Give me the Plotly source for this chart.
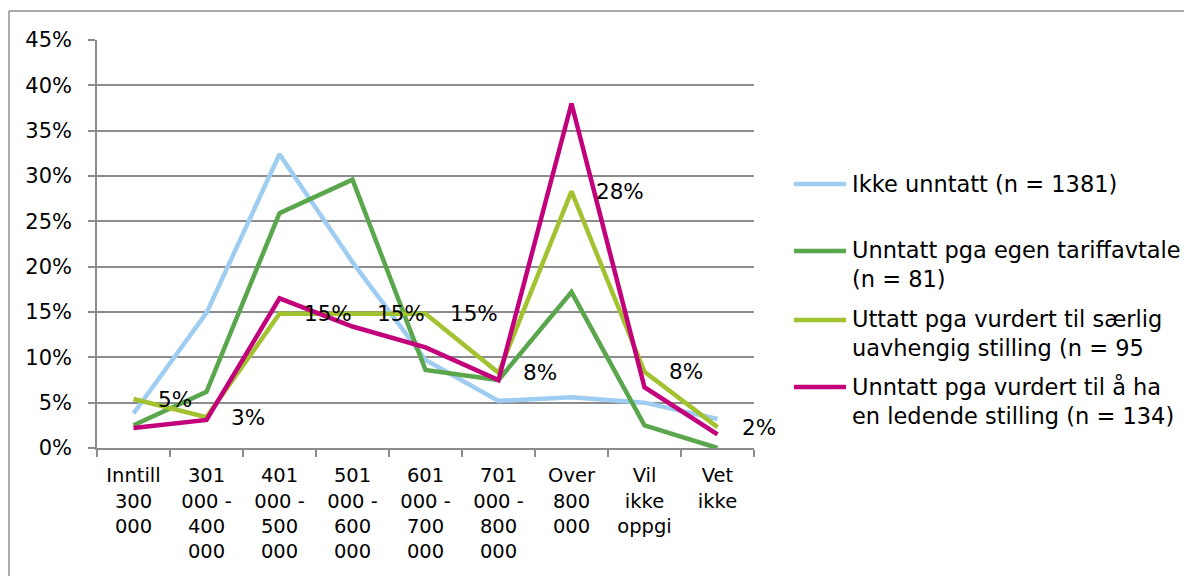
import plotly.graph_objects as go

# Income brackets (NOK) on the x axis
categories = [
    "Inntill<br>300<br>000",
    "301<br>000 -<br>400<br>000",
    "401<br>000 -<br>500<br>000",
    "501<br>000 -<br>600<br>000",
    "601<br>000 -<br>700<br>000",
    "701<br>000 -<br>800<br>000",
    "Over<br>800<br>000",
    "Vil<br>ikke<br>oppgi",
    "Vet<br>ikke",
]

# Share of respondents per bracket (%)
ikke_unntatt = [3.8, 14.9, 32.4, 20.5, 9.7, 5.2, 5.6, 5.0, 3.2]
egen_tariffavtale = [2.5, 6.2, 25.9, 29.6, 8.6, 7.5, 17.2, 2.5, 0.0]
saerlig_uavhengig = [5.4, 3.4, 14.8, 14.8, 14.8, 8.3, 28.3, 8.4, 2.3]
ledende_stilling = [2.2, 3.1, 16.5, 13.4, 11.1, 7.5, 38.0, 6.7, 1.5]

series_names = [
    "Ikke unntatt (n = 1381)",
    "Unntatt pga egen tariffavtale\n(n = 81)",
    "Uttatt pga vurdert til særlig\nuavhengig stilling (n = 95",
    "Unntatt pga vurdert til å ha\nen ledende stilling (n = 134)",
]
series_values = [ikke_unntatt, egen_tariffavtale, saerlig_uavhengig, ledende_stilling]
series_colors = ["#9FCDF1", "#5AA64D", "#A3C230", "#C2007B"]

# y-axis ticks
y_ticks = [0, 5, 10, 15, 20, 25, 30, 35, 40, 45]
y_ticktext = [f"{t}%" for t in y_ticks]

FONT = "Verdana, DejaVu Sans, sans-serif"
GRID = "#8C8C8C"

W, H = 1184, 576
L, R, T, B = 97, 430, 40, 128
plot_w = W - L - R
plot_h = H - T - B


def px_to_paper_x(px):
    return (px - L) / plot_w


def px_to_paper_y(py):
    return (H - B - py) / plot_h


fig = go.Figure()

for name, vals, color in zip(series_names, series_values, series_colors):
    fig.add_trace(go.Scatter(
        x=categories, y=vals, mode="lines", name=name.replace("\n", " "),
        line=dict(color=color, width=4.5), showlegend=False,
        hoverinfo="x+y",
    ))

# Data labels on the "særlig uavhengig stilling" series
annotations = []
for cat, v in zip(categories, saerlig_uavhengig):
    annotations.append(dict(
        x=cat, y=v, xref="x", yref="y", text=f"{round(v)}%",
        showarrow=False, xanchor="left", yanchor="middle", xshift=22,
        font=dict(family=FONT, size=21.5, color="#000000"),
    ))

# Legend drawn at the right of the plot
shapes = []
legend_first_line_y = [184, 251, 320, 387]
line_h = 27.0
for name, color, ly in zip(series_names, series_colors, legend_first_line_y):
    n_lines = name.count("\n") + 1
    shapes.append(dict(
        type="line", xref="paper", yref="paper",
        x0=px_to_paper_x(794), x1=px_to_paper_x(846),
        y0=px_to_paper_y(ly), y1=px_to_paper_y(ly),
        line=dict(color=color, width=4.5),
    ))
    center = ly + (n_lines - 1) * line_h / 2
    annotations.append(dict(
        x=px_to_paper_x(850), y=px_to_paper_y(center), xref="paper", yref="paper",
        text=name.replace("\n", "<br>"), showarrow=False, align="left",
        xanchor="left", yanchor="middle",
        font=dict(family=FONT, size=22.5, color="#000000"),
    ))

# Outer chart frame (left and top edges)
shapes.append(dict(type="line", xref="paper", yref="paper",
                   x0=px_to_paper_x(9), x1=px_to_paper_x(9),
                   y0=px_to_paper_y(11), y1=px_to_paper_y(H + 10),
                   line=dict(color=GRID, width=1.5)))
shapes.append(dict(type="line", xref="paper", yref="paper",
                   x0=px_to_paper_x(9), x1=px_to_paper_x(W + 10),
                   y0=px_to_paper_y(11), y1=px_to_paper_y(11),
                   line=dict(color=GRID, width=1.5)))

fig.update_layout(
    width=W, height=H,
    margin=dict(l=L, r=R, t=T, b=B, pad=0),
    paper_bgcolor="white", plot_bgcolor="white",
    font=dict(family=FONT, size=21, color="#000000"),
    annotations=annotations, shapes=shapes,
    showlegend=False,
)

fig.update_xaxes(
    type="category", range=[-0.5, len(categories) - 0.5],
    showgrid=False, showline=True, linecolor=GRID, linewidth=1.5,
    ticks="outside", tickson="boundaries", ticklen=7, tickcolor=GRID, tickwidth=1.5,
    ticklabelstandoff=9,
    tickfont=dict(family=FONT, size=19.5, color="#000000"),
    tickangle=0,
)
fig.update_yaxes(
    range=[0, 45], tickvals=y_ticks, ticktext=y_ticktext,
    showgrid=True, gridcolor=GRID, gridwidth=1.5,
    zeroline=False, showline=True, linecolor=GRID, linewidth=1.5,
    ticks="outside", ticklen=7, tickcolor=GRID, tickwidth=1.5,
    ticklabelstandoff=12,
    tickfont=dict(family=FONT, size=21, color="#000000"),
)

fig.write_html("out.html")
